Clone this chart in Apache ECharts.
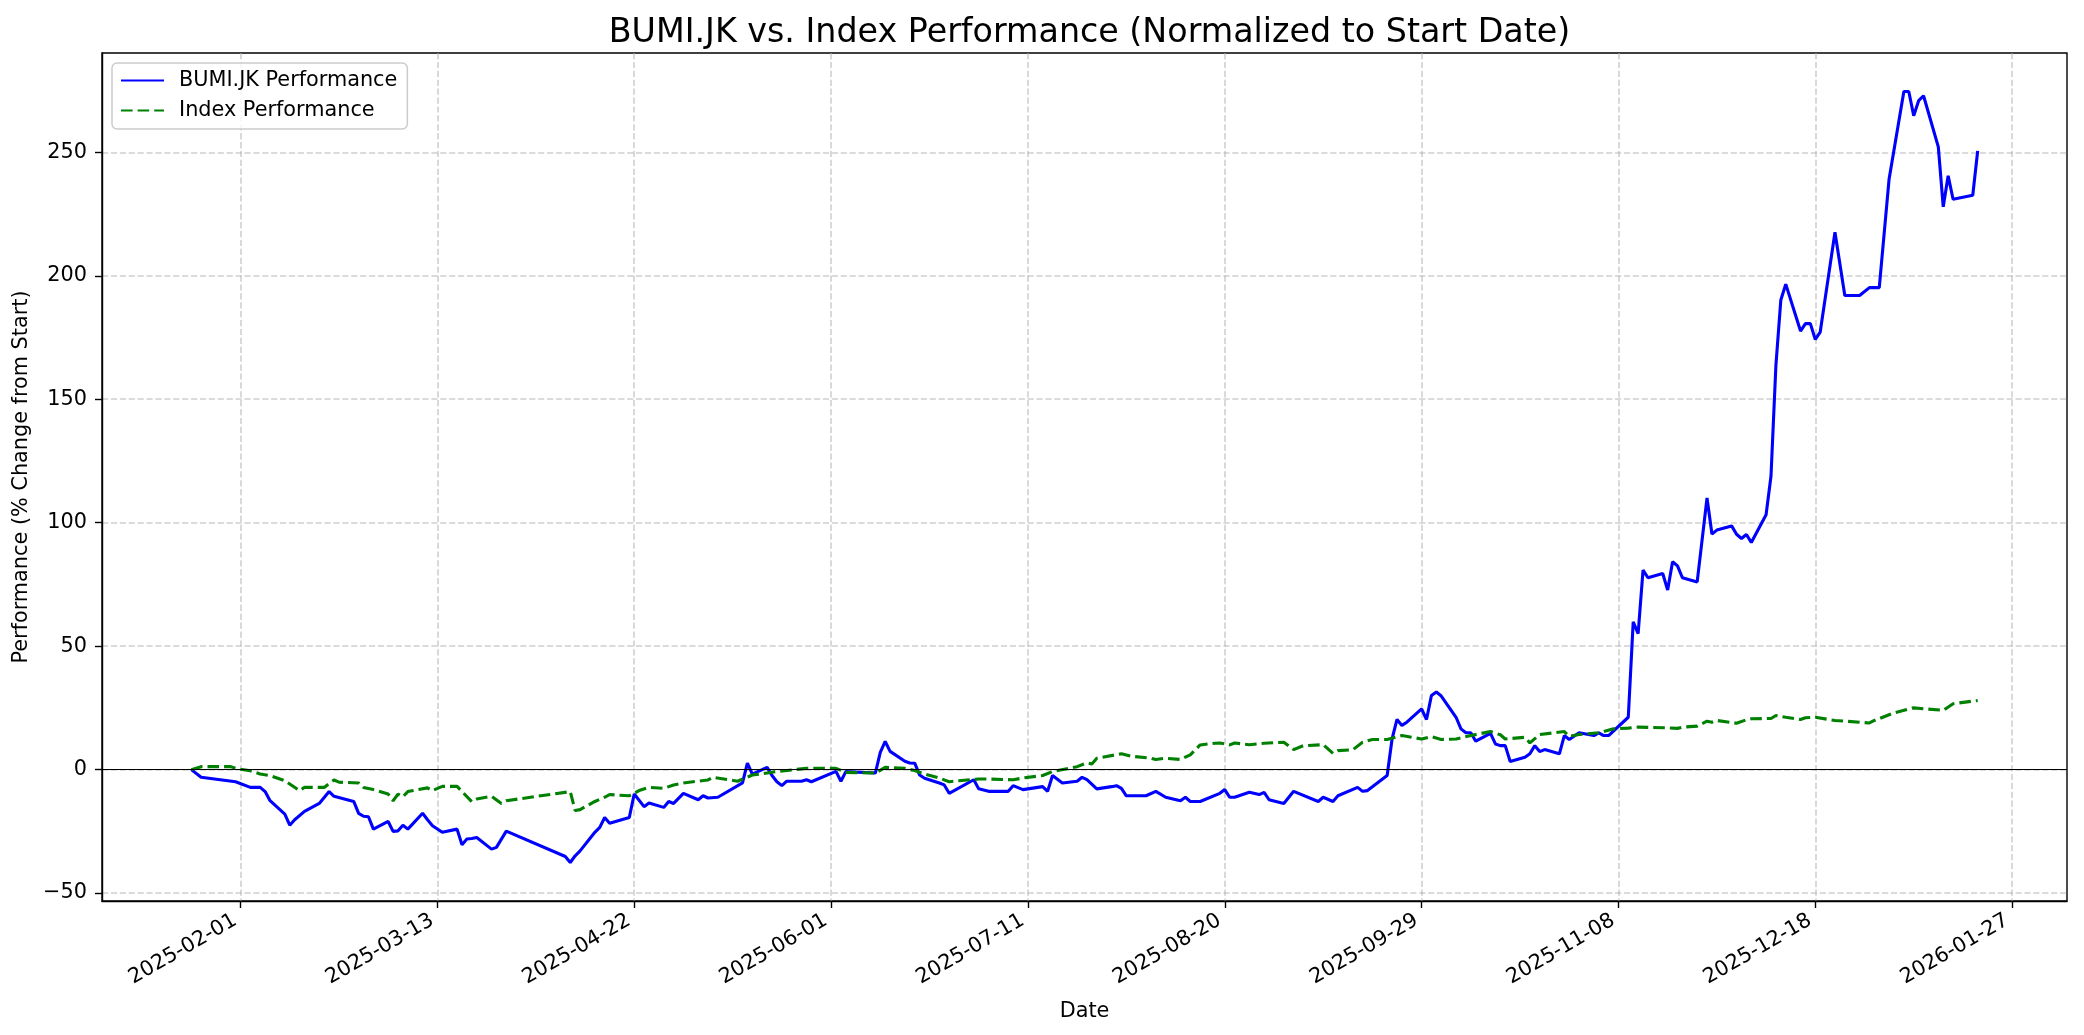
<!DOCTYPE html>
<html>
<head>
<meta charset="utf-8">
<script src="https://cdn.jsdelivr.net/npm/echarts@6/dist/echarts.min.js"></script>
<style>
html,body{margin:0;padding:0;background:#fff;}
#chart{width:2084px;height:1035px;}
</style>
</head>
<body>
<div id="chart"></div>
<script>
// ---------------- DATA ----------------
const titleText = 'BUMI.JK vs. Index Performance (Normalized to Start Date)';
const seriesNames = ['BUMI.JK Performance', 'Index Performance'];

const bumiDates = [
'2025-01-22','2025-01-24','2025-01-31','2025-02-03','2025-02-05','2025-02-06','2025-02-07','2025-02-10','2025-02-11','2025-02-12',
'2025-02-14','2025-02-17','2025-02-19','2025-02-20','2025-02-24','2025-02-25','2025-02-26','2025-02-27','2025-02-28','2025-03-03',
'2025-03-04','2025-03-05','2025-03-06','2025-03-07','2025-03-10','2025-03-11','2025-03-12','2025-03-14','2025-03-17','2025-03-18',
'2025-03-19','2025-03-20','2025-03-21','2025-03-24','2025-03-25','2025-03-27','2025-04-08','2025-04-09','2025-04-10','2025-04-11',
'2025-04-14','2025-04-15','2025-04-16','2025-04-17','2025-04-21','2025-04-22','2025-04-24','2025-04-25','2025-04-28','2025-04-29',
'2025-04-30','2025-05-02','2025-05-05','2025-05-06','2025-05-07','2025-05-09','2025-05-14','2025-05-15','2025-05-16','2025-05-19',
'2025-05-20','2025-05-21','2025-05-22','2025-05-23','2025-05-26','2025-05-27','2025-05-28','2025-06-02','2025-06-03','2025-06-04',
'2025-06-10','2025-06-11','2025-06-12','2025-06-13','2025-06-16','2025-06-17','2025-06-18','2025-06-19','2025-06-20','2025-06-23',
'2025-06-24','2025-06-25','2025-06-30','2025-07-01','2025-07-03','2025-07-07','2025-07-08','2025-07-10','2025-07-11','2025-07-14',
'2025-07-15','2025-07-16','2025-07-18','2025-07-21','2025-07-22','2025-07-23','2025-07-25','2025-07-28','2025-07-29','2025-07-30',
'2025-07-31','2025-08-04','2025-08-06','2025-08-08','2025-08-11','2025-08-12','2025-08-13','2025-08-15','2025-08-19','2025-08-20',
'2025-08-21','2025-08-22','2025-08-25','2025-08-27','2025-08-28','2025-08-29','2025-09-01','2025-09-03','2025-09-08','2025-09-09',
'2025-09-11','2025-09-12','2025-09-16','2025-09-17','2025-09-18','2025-09-22','2025-09-23','2025-09-24','2025-09-25','2025-09-26',
'2025-09-29','2025-09-30','2025-10-01','2025-10-02','2025-10-03','2025-10-06','2025-10-07','2025-10-08','2025-10-09','2025-10-10',
'2025-10-13','2025-10-14','2025-10-15','2025-10-16','2025-10-17','2025-10-20','2025-10-21','2025-10-22','2025-10-23','2025-10-24',
'2025-10-27','2025-10-28','2025-10-29','2025-10-31','2025-11-03','2025-11-04','2025-11-05','2025-11-06','2025-11-10','2025-11-11',
'2025-11-12','2025-11-13','2025-11-14','2025-11-17','2025-11-18','2025-11-19','2025-11-20','2025-11-21','2025-11-24','2025-11-26',
'2025-11-27','2025-11-28','2025-12-01','2025-12-02','2025-12-03','2025-12-04','2025-12-05','2025-12-08','2025-12-09','2025-12-10',
'2025-12-11','2025-12-12','2025-12-15','2025-12-16','2025-12-17','2025-12-18','2025-12-19','2025-12-22','2025-12-24','2025-12-27',
'2025-12-29','2025-12-31','2026-01-02','2026-01-05','2026-01-06','2026-01-07','2026-01-08','2026-01-09','2026-01-12','2026-01-13',
'2026-01-14','2026-01-15','2026-01-19','2026-01-20'
];
const bumiValues = [
0,-3.1,-4.9,-7.2,-7.2,-8.9,-12.6,-18.0,-22.5,-20.3,
-16.9,-13.7,-8.9,-10.8,-12.9,-17.7,-18.9,-19.1,-24.1,-21.0,
-25.0,-24.8,-22.5,-24.1,-17.7,-20.3,-22.7,-25.4,-24.1,-30.4,
-28.1,-27.9,-27.5,-32.2,-31.5,-24.9,-35.2,-37.6,-34.9,-32.9,
-25.4,-23.4,-19.4,-21.7,-19.4,-9.9,-15.0,-13.5,-15.3,-12.9,
-13.7,-9.6,-12.2,-10.6,-11.5,-11.2,-5.4,2.6,-1.8,0.9,
-2.4,-4.9,-6.5,-4.7,-4.7,-4.1,-4.9,-0.7,-4.7,-0.8,
-1.4,7.0,11.4,7.4,3.4,2.7,2.6,-2.2,-3.5,-5.4,
-6.2,-9.6,-4.1,-7.8,-8.8,-8.8,-6.5,-8.1,-7.8,-6.9,
-8.8,-2.4,-5.4,-4.7,-3.1,-4.1,-7.8,-6.9,-6.5,-7.6,
-10.6,-10.6,-8.8,-11.2,-12.6,-11.2,-12.9,-12.9,-9.6,-8.1,
-11.2,-11.2,-9.2,-10.1,-9.2,-12.2,-13.7,-8.8,-12.9,-11.2,
-12.9,-10.6,-7.2,-8.8,-8.5,-2.4,12.4,20.3,17.9,19.2,
24.6,20.3,30.0,31.4,29.8,21.2,16.5,14.9,14.9,11.5,
14.7,10.4,9.7,9.7,3.3,5.0,6.4,9.7,7.3,8.1,
6.4,13.8,12.2,14.9,13.8,14.9,13.8,13.8,21.2,59.8,
55.1,80.8,77.7,79.4,72.7,84.2,82.5,77.7,76.0,110.0,
95.4,97.0,98.7,95.3,93.6,95.2,92.0,103.2,118.9,163.8,
190.2,196.6,177.6,180.6,180.6,174.2,177.2,217.6,192.0,192.0,
195.2,195.2,239.2,274.6,274.6,264.8,270.9,272.9,252.2,227.9,
240.5,231.0,232.6,250.6
];

const indexDates = [
'2025-01-22','2025-01-24','2025-01-30','2025-01-31','2025-02-03','2025-02-05','2025-02-07','2025-02-10','2025-02-13','2025-02-14',
'2025-02-18','2025-02-20','2025-02-21','2025-02-25','2025-02-26','2025-02-28','2025-03-03','2025-03-04','2025-03-05','2025-03-06',
'2025-03-07','2025-03-11','2025-03-12','2025-03-14','2025-03-17','2025-03-20','2025-03-21','2025-03-24','2025-03-26','2025-03-27',
'2025-04-09','2025-04-10','2025-04-11','2025-04-14','2025-04-16','2025-04-17','2025-04-21','2025-04-23','2025-04-25','2025-04-28',
'2025-04-30','2025-05-02','2025-05-07','2025-05-08','2025-05-13','2025-05-16','2025-05-21','2025-05-26','2025-05-27','2025-06-02',
'2025-06-04','2025-06-10','2025-06-12','2025-06-16','2025-06-18','2025-06-20','2025-06-23','2025-06-25','2025-06-27','2025-07-01',
'2025-07-03','2025-07-08','2025-07-10','2025-07-14','2025-07-16','2025-07-21','2025-07-23','2025-07-24','2025-07-25','2025-07-30',
'2025-08-01','2025-08-05','2025-08-06','2025-08-08','2025-08-11','2025-08-13','2025-08-15','2025-08-18','2025-08-19','2025-08-21',
'2025-08-22','2025-08-25','2025-08-28','2025-09-01','2025-09-03','2025-09-05','2025-09-09','2025-09-11','2025-09-12','2025-09-15',
'2025-09-17','2025-09-19','2025-09-22','2025-09-25','2025-09-29','2025-10-01','2025-10-03','2025-10-06','2025-10-09','2025-10-13',
'2025-10-15','2025-10-16','2025-10-20','2025-10-21','2025-10-23','2025-10-28','2025-10-29','2025-10-31','2025-11-04','2025-11-07',
'2025-11-10','2025-11-12','2025-11-18','2025-11-20','2025-11-21','2025-11-24','2025-11-26','2025-11-27','2025-11-28','2025-12-02',
'2025-12-04','2025-12-05','2025-12-09','2025-12-10','2025-12-12','2025-12-15','2025-12-16','2025-12-18','2025-12-22','2025-12-29',
'2025-12-30','2026-01-03','2026-01-07','2026-01-13','2026-01-15','2026-01-20'
];
const indexValues = [
0,1.2,1.2,0.5,-0.5,-1.8,-2.4,-4.5,-8.5,-7.2,
-7.2,-4.2,-5.1,-5.4,-7.2,-8.1,-9.9,-12.6,-9.9,-11.0,
-8.9,-7.4,-8.5,-6.8,-6.8,-13.0,-11.9,-10.8,-13.7,-12.6,
-8.9,-16.6,-16.2,-12.9,-11.2,-10.1,-10.6,-8.5,-7.2,-7.6,
-6.2,-5.4,-4.2,-3.1,-4.7,-2.2,-0.8,0.3,0.5,0.5,
-1.1,-1.4,0.9,0.5,-0.4,-1.8,-3.4,-4.9,-4.5,-3.8,
-3.8,-4.1,-3.4,-2.4,-0.8,1.2,2.7,2.3,4.6,6.4,
5.4,4.6,4.1,4.6,4.1,6.0,10.0,10.7,10.8,10.0,
10.8,10.1,10.7,11.1,8.1,9.7,10.1,6.6,7.7,8.0,
11.1,12.2,12.2,13.8,12.4,13.4,12.2,12.4,13.8,15.4,
14.1,12.4,13.1,10.8,14.2,15.4,13.5,14.2,14.9,16.5,
16.8,17.2,16.9,16.7,17.2,17.6,19.6,19.2,19.9,18.8,
20.2,20.6,20.7,21.9,21.2,20.3,21.0,21.2,19.9,18.9,
19.9,23.0,25.0,24.0,26.7,28.0
];

const xTickDates = ['2025-02-01','2025-03-13','2025-04-22','2025-06-01','2025-07-11','2025-08-20','2025-09-29','2025-11-08','2025-12-18','2026-01-27'];
const yTickValues = [-50, 0, 50, 100, 150, 200, 250];

// ---------------- BUILD ----------------
function toTs(s) {
  const p = s.split('-').map(Number);
  return new Date(p[0], p[1] - 1, p[2]).getTime();
}
function pad(n) { return (n < 10 ? '0' : '') + n; }
function fmtDate(ts) {
  const d = new Date(Math.round(ts));
  return d.getFullYear() + '-' + pad(d.getMonth() + 1) + '-' + pad(d.getDate());
}
const bumiData = bumiDates.map((d, i) => [toTs(d), bumiValues[i]]);
const indexData = indexDates.map((d, i) => [toTs(d), indexValues[i]]);

const allTs = bumiData.map(p => p[0]).concat(indexData.map(p => p[0]));
const allV = bumiValues.concat(indexValues);
const tMin = Math.min(...allTs), tMax = Math.max(...allTs);
const vMin = Math.min(...allV), vMax = Math.max(...allV);
const tPad = (tMax - tMin) * 0.05, vPad = (vMax - vMin) * 0.05;
const xTicks = xTickDates.map(toTs);

const FONT = 'DejaVu Sans';
const FS = 20.8;
const gridLine = { show: true, lineStyle: { color: 'rgba(176,176,176,0.6)', width: 1.6, type: [6.2, 2.7] } };

const chart = echarts.init(document.getElementById('chart'), null, { renderer: 'canvas' });
chart.setOption({
  animation: false,
  backgroundColor: '#ffffff',
  textStyle: { fontFamily: FONT },
  title: {
    text: titleText,
    left: 1084.5, textAlign: 'center',
    top: 10,
    textStyle: { fontFamily: FONT, fontSize: 33.3, fontWeight: 'normal', color: '#000', lineHeight: 36 }
  },
  legend: {
    data: seriesNames,
    orient: 'vertical',
    left: 112, top: 63,
    itemWidth: 43, itemHeight: 14, itemGap: 9,
    padding: [7, 10, 8, 8],
    backgroundColor: 'rgba(255,255,255,0.8)',
    borderColor: '#cccccc', borderWidth: 1.5, borderRadius: 5,
    itemStyle: { color: 'rgba(0,0,0,0)', borderWidth: 0, opacity: 0 },
    textStyle: { fontFamily: FONT, fontSize: FS, color: '#000', padding: [0, 0, 0, 10] }
  },
  grid: {
    left: 102, top: 53, right: 17, bottom: 134,
    show: true, borderColor: '#000', borderWidth: 1.4, backgroundColor: 'transparent'
  },
  xAxis: {
    type: 'value',
    min: tMin - tPad, max: tMax + tPad,
    name: 'Date', nameLocation: 'middle', nameGap: 100,
    nameTextStyle: { fontFamily: FONT, fontSize: FS, color: '#000' },
    axisLine: { show: true, onZero: false, lineStyle: { color: '#000', width: 1.4 } },
    axisTick: { show: true, length: 7, customValues: xTicks, lineStyle: { color: '#000', width: 1.4 } },
    axisLabel: {
      customValues: xTicks,
      rotate: 30, margin: 15, padding: [0, 6, 0, 0],
      fontFamily: FONT, fontSize: FS, color: '#000',
      formatter: v => fmtDate(v)
    },
    splitLine: gridLine
  },
  yAxis: {
    type: 'value',
    min: vMin - vPad, max: vMax + vPad,
    name: 'Performance (% Change from Start)', nameLocation: 'middle', nameGap: 69, nameRotate: 90,
    nameTextStyle: { fontFamily: FONT, fontSize: FS, color: '#000' },
    axisLine: { show: true, onZero: false, lineStyle: { color: '#000', width: 1.4 } },
    axisTick: { show: true, length: 7, customValues: yTickValues, lineStyle: { color: '#000', width: 1.4 } },
    axisLabel: {
      customValues: yTickValues,
      margin: 15, fontFamily: FONT, fontSize: FS, color: '#000',
      formatter: v => (v < 0 ? '\u2212' + Math.abs(v) : String(v))
    },
    splitLine: gridLine
  },
  series: [
    {
      name: seriesNames[0], type: 'line', data: bumiData,
      symbol: 'none', showSymbol: false,
      lineStyle: { color: '#0000ff', width: 3.1 },
      itemStyle: { color: '#0000ff' },
      z: 3
    },
    {
      name: seriesNames[1], type: 'line', data: indexData,
      symbol: 'none', showSymbol: false,
      lineStyle: { color: '#008000', width: 3.1, type: [11.6, 5] },
      itemStyle: { color: '#008000' },
      z: 4,
      markLine: {
        silent: true, symbol: 'none', label: { show: false },
        lineStyle: { color: '#000', width: 1.1, type: 'solid' },
        data: [{ yAxis: 0 }]
      }
    }
  ]
});
</script>
</body>
</html>
